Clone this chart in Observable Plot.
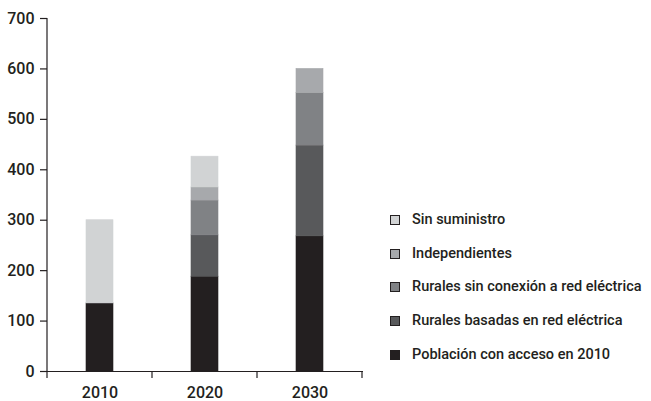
<!DOCTYPE html>
<html>
<head>
<meta charset="utf-8">
<script src="https://cdn.jsdelivr.net/npm/d3@7"></script>
<script src="https://cdn.jsdelivr.net/npm/@observablehq/plot@0.6"></script>
<style>
  html, body { margin: 0; padding: 0; background: #fff; }
  #wrap { position: relative; width: 651px; height: 401px; overflow: hidden; font-family: Roboto, "DejaVu Sans", sans-serif; font-weight: 500; color: #231f20; }
  #legend { position: absolute; left: 390px; top: 0; }
  .row { position: absolute; left: 0; white-space: nowrap; font-size: 14.5px; line-height: 16px; display: flex; align-items: center; }
  .sw { width: 8px; height: 8px; border: 1px solid #231f20; margin-right: 12px; flex: none; }
</style>
</head>
<body>
<div id="wrap"><div id="chart"></div><div id="legend"></div></div>
<script>
const years = ["2010", "2020", "2030"];
const series = [
  "Población con acceso en 2010",
  "Rurales basadas en red eléctrica",
  "Rurales sin conexión a red eléctrica",
  "Independientes",
  "Sin suministro"
];
const acceso = [135, 188, 268];
const ruralesRed = [0, 82, 180];
const ruralesSin = [0, 69, 104];
const independientes = [0, 26, 48];
const sinSuministro = [165, 61, 0];
const colors = ["#231f20", "#58595b", "#808285", "#a7a9ac", "#d1d3d4"];
const yTicks = [0, 100, 200, 300, 400, 500, 600, 700];

const valuesBySeries = [acceso, ruralesRed, ruralesSin, independientes, sinSuministro];
const data = [];
series.forEach((s, i) => {
  years.forEach((y, j) => {
    data.push({year: y, series: s, value: valuesBySeries[i][j]});
  });
});

// boundary ticks under the x axis, computed from the band scale
function bandBoundaryTicks() {
  return (index, scales, values, dimensions) => {
    const x = scales.x;
    const step = x.step(), bw = x.bandwidth();
    const dom = x.domain();
    const y0 = dimensions.height - dimensions.marginBottom;
    const xs = dom.map(d => x(d) - (step - bw) / 2);
    xs.push(x(dom[dom.length - 1]) + bw + (step - bw) / 2);
    const g = d3.create("svg:g");
    g.selectAll("line").data(xs).join("line")
      .attr("x1", d => d).attr("x2", d => d)
      .attr("y1", y0).attr("y2", y0 + 7)
      .attr("stroke", "#231f20").attr("stroke-width", 1.2);
    return g.node();
  };
}

function yAxisLine() {
  return (index, scales, values, dimensions) => {
    const y = scales.y;
    const d = y.domain();
    const g = d3.create("svg:g");
    g.append("line")
      .attr("x1", dimensions.marginLeft).attr("x2", dimensions.marginLeft)
      .attr("y1", y(d[0])).attr("y2", y(d[1]))
      .attr("stroke", "#231f20").attr("stroke-width", 1.2);
    return g.node();
  };
}

const chart = Plot.plot({
  width: 651,
  height: 401,
  marginLeft: 47,
  marginRight: 288,
  marginTop: 18,
  marginBottom: 30,
  style: {fontFamily: "Roboto, 'DejaVu Sans', sans-serif", fontWeight: 500, fontSize: "16px", color: "#231f20", background: "transparent"},
  x: {domain: years, paddingInner: 0.74, paddingOuter: 0.37, label: null},
  y: {domain: [0, 700], label: null},
  color: {domain: series, range: colors},
  marks: [
    Plot.barY(data, {x: "year", y: "value", fill: "series", stroke: "series", strokeWidth: 0.6, order: series}),
    Plot.ruleY([0], {stroke: "#231f20", strokeWidth: 1.2}),
    Plot.axisY({ticks: yTicks, tickSize: 7, tickPadding: 6, stroke: "#231f20", strokeWidth: 1.2, label: null, fontSize: 16}),
    Plot.axisX({tickSize: 0, tickPadding: 15, label: null, fontSize: 16}),
    bandBoundaryTicks(),
    yAxisLine()
  ]
});
document.getElementById("chart").appendChild(chart);

// legend (top to bottom: reverse stack order)
const legend = document.getElementById("legend");
const legendRows = series.slice().reverse();
const legendColors = colors.slice().reverse();
legendRows.forEach((s, i) => {
  const row = document.createElement("div");
  row.className = "row";
  row.style.top = (212 + i * 33.7) + "px";
  const sw = document.createElement("span");
  sw.className = "sw";
  sw.style.background = legendColors[i];
  const t = document.createElement("span");
  t.textContent = s;
  row.appendChild(sw);
  row.appendChild(t);
  legend.appendChild(row);
});
</script>
</body>
</html>
